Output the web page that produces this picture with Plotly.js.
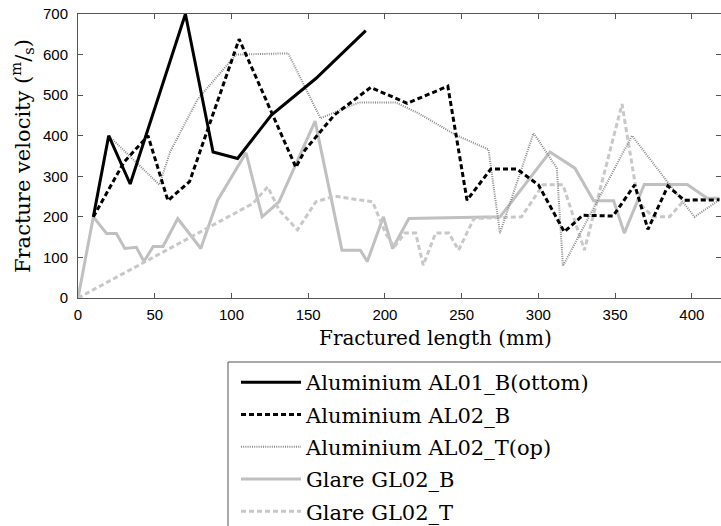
<!DOCTYPE html>
<html>
<head>
<meta charset="utf-8">
<script src="https://cdn.plot.ly/plotly-3.0.1.min.js"></script>
<style>html,body{margin:0;padding:0;background:#fff;}#chart{width:721px;height:526px;}</style>
</head>
<body>
<div id="chart"></div>
<script>
// Fractured length (mm) and fracture velocity (m/s)
const al01bX = [10, 20, 34, 70, 88, 104, 126, 155, 187.5];
const al01bY = [200, 400, 281, 700, 360, 344, 451, 541, 659];

const al02bX = [10, 30, 45.6, 58.6, 72.7, 105, 142, 148, 167, 190.7, 214.5, 241, 253.5, 269, 286, 300, 316.9, 329, 348.7, 362.8, 371.4, 384.4, 395, 418];
const al02bY = [200, 335, 400, 240, 287, 638, 322, 365, 451, 519, 480, 522, 241, 318, 318, 279, 163, 204, 202, 279, 169, 276, 241, 242];

const al02tX = [10, 20, 53, 60, 78, 103, 137, 158, 183, 207, 222, 246, 267.5, 275, 296.8, 300, 312, 316, 361, 376.8, 401.7, 418];
const al02tY = [200, 400, 279, 360, 490, 600, 603, 443, 482, 482, 455, 402, 366, 160, 406, 389, 320, 79, 400, 323, 200, 242];

const gl02bX = [0, 10, 18.6, 25, 30.5, 38, 43, 49, 55.4, 65, 80, 91, 109.5, 120, 131, 154.5, 172, 184, 188.5, 199, 205, 215.6, 275, 307.6, 323.8, 336, 349, 356, 369, 397, 410, 418];
const gl02bY = [0, 200, 159, 159, 122, 125, 90, 127, 127, 196, 122, 241, 358, 200, 237, 436, 118, 118, 90, 200, 122, 196, 200, 360, 320, 240, 240, 160, 280, 280, 246, 246];

const gl02tX = [0, 105, 114, 123.6, 131, 143, 155, 167, 192, 200.4, 206, 213, 220, 225, 233, 241.6, 248, 258, 289, 303, 316, 330, 354.5, 365, 374.7, 385.5, 395, 418];
const gl02tY = [0, 213, 233, 274, 217, 168, 237, 251, 237, 160, 126, 160, 160, 81, 160, 160, 118, 196, 200, 279, 279, 118, 478, 237, 200, 200, 241, 245];

const seriesNames = ['Aluminium AL01_B(ottom)', 'Aluminium AL02_B', 'Aluminium AL02_T(op)', 'Glare GL02_B', 'Glare GL02_T'];
const xTicks = [0, 50, 100, 150, 200, 250, 300, 350, 400];
const yTicks = [0, 100, 200, 300, 400, 500, 600, 700];

function tr(x, y, name, rank, line) {
  return {x: x, y: y, name: name, type: 'scatter', mode: 'lines', line: line,
          legendgroup: 'g' + rank, legendrank: rank, hoverinfo: 'skip'};
}

const data = [
  tr(gl02bX, gl02bY, seriesNames[3], 4, {color: '#c0c0c0', width: 3}),
  tr(gl02tX, gl02tY, seriesNames[4], 5, {color: '#c8c8c8', width: 3, dash: '5px,3px'}),
  tr(al02tX, al02tY, seriesNames[2], 3, {color: '#8a8a8a', width: 2, dash: '1px,1.2px'}),
  tr(al01bX, al01bY, seriesNames[0], 1, {color: '#000', width: 3}),
  tr(al02bX, al02bY, seriesNames[1], 2, {color: '#000', width: 3, dash: '5px,3px'})
];

const serif = 'DejaVu Serif, Liberation Serif, serif';
const axisCommon = {
  showgrid: false, zeroline: false, showline: true, linecolor: '#555', linewidth: 1,
  mirror: 'ticks', ticks: 'inside', ticklen: 5, tickcolor: '#555', tickwidth: 1,
  tickfont: {family: 'Liberation Sans, Arial, sans-serif', size: 15, color: '#000'}
};

const layout = {
  width: 721, height: 526,
  margin: {l: 78, r: 0, t: 14, b: 228, autoexpand: false},
  paper_bgcolor: '#fff', plot_bgcolor: '#fff',
  showlegend: true,
  xaxis: Object.assign({}, axisCommon, {range: [0, 419], tickvals: xTicks, ticktext: xTicks.map(String), ticklabelstandoff: 3}),
  yaxis: Object.assign({}, axisCommon, {range: [0, 700], tickvals: yTicks, ticktext: yTicks.map(String), ticklabelstandoff: 6}),
  legend: {
    x: (236 - 78) / 643, y: (298 - 362) / 284, xanchor: 'left', yanchor: 'top',
    traceorder: 'grouped', tracegroupgap: 2, itemwidth: 60,
    bgcolor: 'rgba(0,0,0,0)', borderwidth: 0,
    font: {family: serif, size: 21, color: '#000'}
  },
  shapes: [{
    type: 'rect', xref: 'paper', yref: 'paper',
    x0: (228 - 78) / 643, x1: 1.05, y0: -0.9, y1: (298 - 362) / 284,
    line: {color: '#555', width: 1}, fillcolor: 'rgba(0,0,0,0)'
  }],
  annotations: [
    {text: 'Fractured length (mm)', xref: 'paper', yref: 'paper',
     x: (435 - 78) / 643, y: (298 - 338) / 284, xanchor: 'center', yanchor: 'middle',
     showarrow: false, font: {family: serif, size: 20, color: '#000'}},
    {text: 'Fracture velocity (<sup>m</sup>/<sub>s</sub>)', xref: 'paper', yref: 'paper',
     x: (22 - 78) / 643, y: 0.5, xanchor: 'center', yanchor: 'middle', textangle: -90,
     showarrow: false, font: {family: serif, size: 21, color: '#000'}}
  ]
};

Plotly.newPlot('chart', data, layout, {displayModeBar: false, staticPlot: true});
</script>
</body>
</html>
